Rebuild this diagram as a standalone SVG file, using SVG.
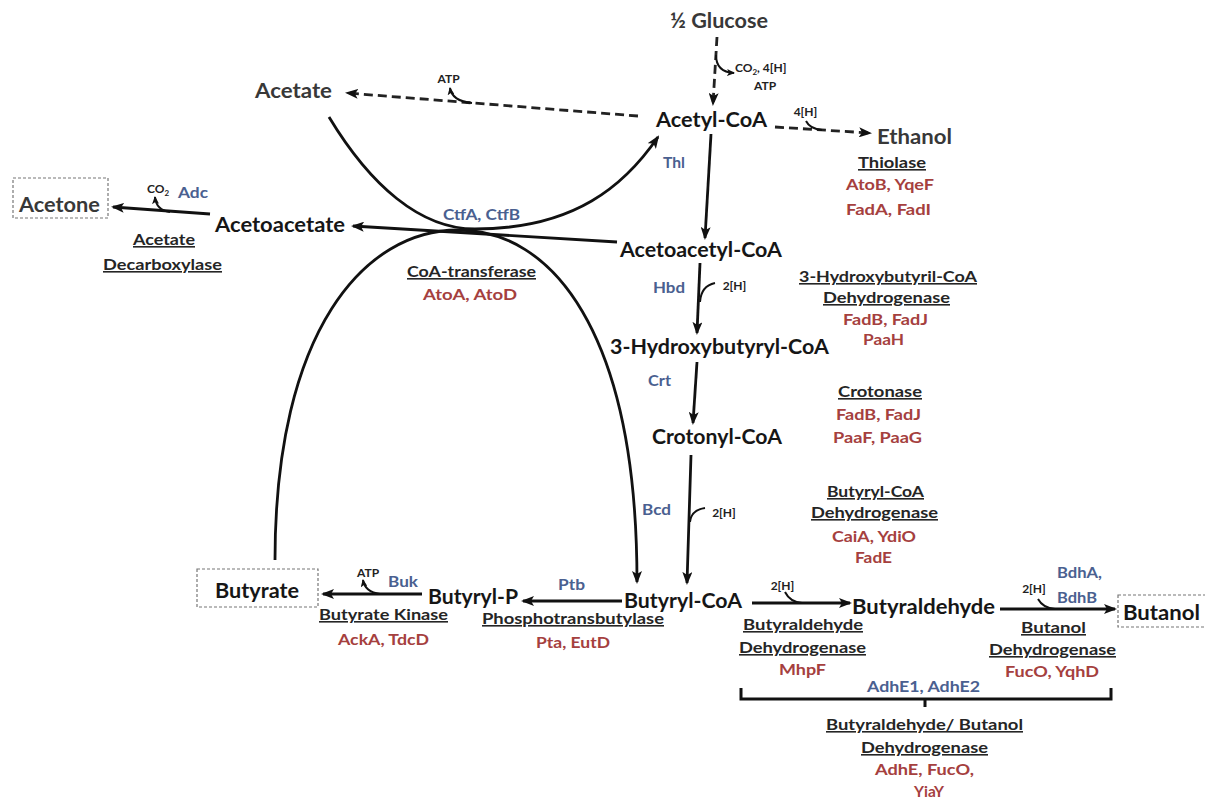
<svg xmlns="http://www.w3.org/2000/svg" width="1205" height="801" viewBox="0 0 1205 801">
<style>
text{font-family:Lato,"Liberation Sans",sans-serif;font-weight:bold;text-anchor:middle}
.m{font-size:20px;fill:#161616}
.g{font-size:20px;fill:#383838}
.e{font-size:16px;fill:#252525;text-decoration:underline}
.r{font-size:16px;fill:#a5403e}
.b{font-size:16px;fill:#4a6090}
.s{font-size:12px;fill:#222}
.ln{fill:none;stroke:#111;stroke-width:2.8}
.dl{fill:none;stroke:#222;stroke-width:2.8;stroke-dasharray:9 5}
.hk{fill:none;stroke:#111;stroke-width:2}
.bx{fill:none;stroke:#777;stroke-width:1.2;stroke-dasharray:3 2}
</style>
<defs>
<marker id="ah" markerWidth="13" markerHeight="10" refX="11" refY="5" orient="auto" markerUnits="userSpaceOnUse"><path d="M0,0 L13,5 L0,10 L3,5 z" fill="#111"/></marker>
<marker id="sh" markerWidth="8" markerHeight="7" refX="7" refY="3.5" orient="auto" markerUnits="userSpaceOnUse"><path d="M0,0 L8,3.5 L0,7 L2,3.5 z" fill="#111"/></marker>
</defs>
<rect width="1205" height="801" fill="#fff"/>

<g id="connectors">
<path class="ln" d="M711,134 L705,238" marker-end="url(#ah)"/>
<path class="ln" d="M617,242 L353,226" marker-end="url(#ah)"/>
<path class="ln" d="M210,214 L113,207" marker-end="url(#ah)"/>
<path class="ln" d="M700,263 L697,333" marker-end="url(#ah)"/>
<path class="ln" d="M697,362 L693,423" marker-end="url(#ah)"/>
<path class="ln" d="M691,455 L687,583" marker-end="url(#ah)"/>
<path class="ln" d="M622,601 L523,601" marker-end="url(#ah)"/>
<path class="ln" d="M422,594 L323,594" marker-end="url(#ah)"/>
<path class="ln" d="M752,603 L850,603" marker-end="url(#ah)"/>
<path class="ln" d="M1000,609 L1115,609" marker-end="url(#ah)"/>
<path class="ln" d="M329,117 C370,185 420,229 475,229 C575,229 625,185 658,137" marker-end="url(#ah)"/>
<path class="ln" d="M275,560 C275,330 365,230 458,230 C551,230 637,330 637,582" marker-end="url(#ah)"/>
<path class="dl" d="M717,37 L713,104" marker-end="url(#ah)"/>
<path class="dl" d="M775,127 L870,133" marker-end="url(#ah)"/>
<path class="dl" d="M638,116 L347,93" marker-end="url(#ah)"/>
<path class="hk" d="M716,55 Q716,72 734,73" marker-end="url(#sh)"/>
<path class="hk" d="M806,121 Q810,129 822,130"/>
<path class="hk" d="M472,103 Q452,101 450,88" marker-end="url(#sh)"/>
<path class="hk" d="M170,212 Q156,210 155,197" marker-end="url(#sh)"/>
<path class="hk" d="M715,283 Q701,286 700,302"/>
<path class="hk" d="M705,508 Q691,510 690,522"/>
<path class="hk" d="M380,594 Q365,592 363,580" marker-end="url(#sh)"/>
<path class="hk" d="M785,592 Q790,602 802,603"/>
<path class="hk" d="M1038,599 Q1043,608 1055,609"/>
<path fill="none" stroke="#111" stroke-width="3" d="M741,688 L741,699 L1111,699 L1111,688 M925,699 L925,707"/>
</g>

<g id="glucose"><text class="g" x="719" y="28" textLength="98" lengthAdjust="spacingAndGlyphs">½ Glucose</text>
<text class="s" x="735" y="72" style="text-anchor:start">CO<tspan font-size="8" dy="3">2</tspan><tspan dy="-3">, 4[H]</tspan></text>
<text class="s" x="765" y="90">ATP</text></g>

<g id="acetyl-coa"><text class="m" x="711.5" y="127" textLength="111" lengthAdjust="spacingAndGlyphs">Acetyl-CoA</text></g>
<g id="ethanol"><text class="g" x="914.5" y="144" textLength="75" lengthAdjust="spacingAndGlyphs">Ethanol</text>
<text class="s" x="805.5" y="116">4[H]</text></g>
<g id="acetate"><text class="g" x="293.5" y="98" textLength="77" lengthAdjust="spacingAndGlyphs">Acetate</text>
<text class="s" x="448.5" y="83">ATP</text></g>
<g id="acetoacetate"><text class="m" x="280" y="232" textLength="130" lengthAdjust="spacingAndGlyphs">Acetoacetate</text></g>
<g id="acetone"><rect class="bx" x="13" y="178" width="95" height="40"/>
<text class="g" x="59.5" y="212" textLength="81" lengthAdjust="spacingAndGlyphs">Acetone</text>
<text class="s" x="147" y="193" style="text-anchor:start">CO<tspan font-size="8" dy="3">2</tspan></text>
<text class="b" x="193" y="198" textLength="30" lengthAdjust="spacingAndGlyphs">Adc</text>
<text class="e" x="164" y="245" textLength="62" lengthAdjust="spacingAndGlyphs">Acetate</text>
<text class="e" x="162.5" y="270" textLength="119" lengthAdjust="spacingAndGlyphs">Decarboxylase</text></g>
<g id="acetoacetyl-coa"><text class="m" x="701" y="257" textLength="162" lengthAdjust="spacingAndGlyphs">Acetoacetyl-CoA</text></g>
<g id="hydroxybutyryl-coa"><text class="m" x="719.5" y="354" textLength="219" lengthAdjust="spacingAndGlyphs">3-Hydroxybutyryl-CoA</text></g>
<g id="crotonyl-coa"><text class="m" x="717" y="444" textLength="130" lengthAdjust="spacingAndGlyphs">Crotonyl-CoA</text></g>
<g id="butyryl-coa"><text class="m" x="683" y="608" textLength="118" lengthAdjust="spacingAndGlyphs">Butyryl-CoA</text></g>
<g id="butyryl-p"><text class="m" x="473" y="604" textLength="90" lengthAdjust="spacingAndGlyphs">Butyryl-P</text></g>
<g id="butyrate"><rect class="bx" x="197" y="569" width="121" height="38"/>
<text class="m" x="257" y="598" textLength="84" lengthAdjust="spacingAndGlyphs">Butyrate</text></g>
<g id="butyraldehyde"><text class="m" x="923.5" y="614" textLength="143" lengthAdjust="spacingAndGlyphs">Butyraldehyde</text></g>
<g id="butanol"><rect class="bx" x="1118" y="595" width="92" height="32"/>
<text class="m" x="1161.5" y="620" textLength="77" lengthAdjust="spacingAndGlyphs">Butanol</text></g>

<g id="thiolase"><text class="b" x="674" y="168" textLength="22" lengthAdjust="spacingAndGlyphs">Thl</text>
<text class="e" x="892" y="168" textLength="68" lengthAdjust="spacingAndGlyphs">Thiolase</text>
<text class="r" x="890" y="190" textLength="88" lengthAdjust="spacingAndGlyphs">AtoB, YqeF</text>
<text class="r" x="888.5" y="215" textLength="85" lengthAdjust="spacingAndGlyphs">FadA, FadI</text></g>
<g id="coa-transferase"><text class="b" x="481.5" y="220" textLength="77" lengthAdjust="spacingAndGlyphs">CtfA, CtfB</text>
<text class="e" x="471.5" y="277" textLength="129" lengthAdjust="spacingAndGlyphs">CoA-transferase</text>
<text class="r" x="470" y="300" textLength="94" lengthAdjust="spacingAndGlyphs">AtoA, AtoD</text></g>
<g id="hbd"><text class="b" x="669" y="293" textLength="32" lengthAdjust="spacingAndGlyphs">Hbd</text>
<text class="s" x="734.5" y="290">2[H]</text>
<text class="e" x="888" y="282" textLength="178" lengthAdjust="spacingAndGlyphs">3-Hydroxybutyril-CoA</text>
<text class="e" x="886.5" y="303" textLength="127" lengthAdjust="spacingAndGlyphs">Dehydrogenase</text>
<text class="r" x="885.5" y="325" textLength="85" lengthAdjust="spacingAndGlyphs">FadB, FadJ</text>
<text class="r" x="883.5" y="345" textLength="41" lengthAdjust="spacingAndGlyphs">PaaH</text></g>
<g id="crotonase"><text class="b" x="659.5" y="386" textLength="23" lengthAdjust="spacingAndGlyphs">Crt</text>
<text class="e" x="880" y="397" textLength="84" lengthAdjust="spacingAndGlyphs">Crotonase</text>
<text class="r" x="878.5" y="420" textLength="85" lengthAdjust="spacingAndGlyphs">FadB, FadJ</text>
<text class="r" x="877.5" y="443" textLength="89" lengthAdjust="spacingAndGlyphs">PaaF, PaaG</text></g>
<g id="bcd"><text class="b" x="656.5" y="515" textLength="29" lengthAdjust="spacingAndGlyphs">Bcd</text>
<text class="s" x="724" y="517">2[H]</text>
<text class="e" x="875.5" y="497" textLength="97" lengthAdjust="spacingAndGlyphs">Butyryl-CoA</text>
<text class="e" x="874.5" y="518" textLength="127" lengthAdjust="spacingAndGlyphs">Dehydrogenase</text>
<text class="r" x="874" y="542" textLength="84" lengthAdjust="spacingAndGlyphs">CaiA, YdiO</text>
<text class="r" x="873.5" y="563" textLength="37" lengthAdjust="spacingAndGlyphs">FadE</text></g>
<g id="ptb"><text class="b" x="571.5" y="590" textLength="27" lengthAdjust="spacingAndGlyphs">Ptb</text>
<text class="e" x="573" y="624" textLength="182" lengthAdjust="spacingAndGlyphs">Phosphotransbutylase</text>
<text class="r" x="573" y="648" textLength="74" lengthAdjust="spacingAndGlyphs">Pta, EutD</text></g>
<g id="buk"><text class="s" x="368" y="577">ATP</text>
<text class="b" x="403" y="587" textLength="30" lengthAdjust="spacingAndGlyphs">Buk</text>
<text class="e" x="383.5" y="620" textLength="129" lengthAdjust="spacingAndGlyphs">Butyrate Kinase</text>
<text class="r" x="383.5" y="645" textLength="91" lengthAdjust="spacingAndGlyphs">AckA, TdcD</text></g>
<g id="butyraldehyde-dh"><text class="s" x="782.5" y="590">2[H]</text>
<text class="e" x="803" y="630" textLength="120" lengthAdjust="spacingAndGlyphs">Butyraldehyde</text>
<text class="e" x="802.5" y="653" textLength="127" lengthAdjust="spacingAndGlyphs">Dehydrogenase</text>
<text class="r" x="802.5" y="675" textLength="47" lengthAdjust="spacingAndGlyphs">MhpF</text></g>
<g id="butanol-dh"><text class="s" x="1034" y="593">2[H]</text>
<text class="b" x="1079.5" y="578" textLength="45" lengthAdjust="spacingAndGlyphs">BdhA,</text>
<text class="b" x="1077" y="603" textLength="40" lengthAdjust="spacingAndGlyphs">BdhB</text>
<text class="e" x="1053.5" y="633" textLength="65" lengthAdjust="spacingAndGlyphs">Butanol</text>
<text class="e" x="1052.5" y="655" textLength="127" lengthAdjust="spacingAndGlyphs">Dehydrogenase</text>
<text class="r" x="1052" y="677" textLength="94" lengthAdjust="spacingAndGlyphs">FucO, YqhD</text></g>
<g id="adhe"><text class="b" x="923.5" y="692" textLength="113" lengthAdjust="spacingAndGlyphs">AdhE1, AdhE2</text>
<text class="e" x="924.5" y="730" textLength="197" lengthAdjust="spacingAndGlyphs">Butyraldehyde/ Butanol</text>
<text class="e" x="924.5" y="753" textLength="127" lengthAdjust="spacingAndGlyphs">Dehydrogenase</text>
<text class="r" x="924.5" y="775" textLength="99" lengthAdjust="spacingAndGlyphs">AdhE, FucO,</text>
<text class="r" x="929" y="797" textLength="30" lengthAdjust="spacingAndGlyphs">YiaY</text></g>
</svg>
